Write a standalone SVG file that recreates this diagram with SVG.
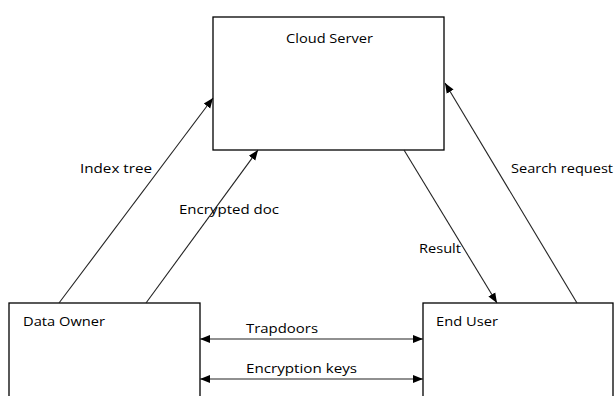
<svg xmlns="http://www.w3.org/2000/svg" width="614" height="396" viewBox="0 0 614 396">
  <style>
    .box { fill: #ffffff; stroke: #000000; stroke-width: 1.3; }
    .label { font-family: "Open Sans", "Liberation Sans", sans-serif; font-size: 13.5px; fill: #000000; }
    .edge { stroke: #222222; stroke-width: 1.1; fill: none; }
  </style>
  <defs>
    <marker id="head" viewBox="0 0 10 10" refX="10" refY="5" markerWidth="10" markerHeight="10" markerUnits="userSpaceOnUse" orient="auto-start-reverse">
      <path d="M0,1 L10,5 L0,9 Z" fill="#000000"/>
    </marker>
  </defs>
  <rect width="614" height="396" fill="#ffffff"/>

  <!-- top node -->
  <g id="cloud-server">
    <rect class="box" x="213" y="17" width="231" height="133"/>
    <text class="label" x="286" y="43" textLength="87" lengthAdjust="spacingAndGlyphs">Cloud Server</text>
  </g>

  <!-- bottom-left node, runs off the lower edge -->
  <g id="data-owner">
    <rect class="box" x="9" y="303" width="191" height="100"/>
    <text class="label" x="23" y="326" textLength="82" lengthAdjust="spacingAndGlyphs">Data Owner</text>
  </g>

  <!-- bottom-right node, runs off the lower edge -->
  <g id="end-user">
    <rect class="box" x="423" y="303" width="190" height="100"/>
    <text class="label" x="436" y="326" textLength="62" lengthAdjust="spacingAndGlyphs">End User</text>
  </g>

  <g id="connectors">
    <line class="edge" x1="59" y1="303" x2="213" y2="98" marker-end="url(#head)"/>
    <line class="edge" x1="146" y1="303" x2="258" y2="150" marker-end="url(#head)"/>
    <line class="edge" x1="404" y1="150" x2="497" y2="303" marker-end="url(#head)"/>
    <line class="edge" x1="577" y1="303" x2="445" y2="83" marker-end="url(#head)"/>
    <line class="edge" x1="200" y1="339" x2="423" y2="339" marker-start="url(#head)" marker-end="url(#head)"/>
    <line class="edge" x1="200" y1="379" x2="423" y2="379" marker-start="url(#head)" marker-end="url(#head)"/>

    <text class="label" x="80" y="173" textLength="72" lengthAdjust="spacingAndGlyphs">Index tree</text>
    <text class="label" x="179" y="214" textLength="100" lengthAdjust="spacingAndGlyphs">Encrypted doc</text>
    <text class="label" x="419" y="253" textLength="42" lengthAdjust="spacingAndGlyphs">Result</text>
    <text class="label" x="511" y="173" textLength="102" lengthAdjust="spacingAndGlyphs">Search request</text>
    <text class="label" x="246" y="333" textLength="72" lengthAdjust="spacingAndGlyphs">Trapdoors</text>
    <text class="label" x="246" y="373" textLength="111" lengthAdjust="spacingAndGlyphs">Encryption keys</text>
  </g>
</svg>
